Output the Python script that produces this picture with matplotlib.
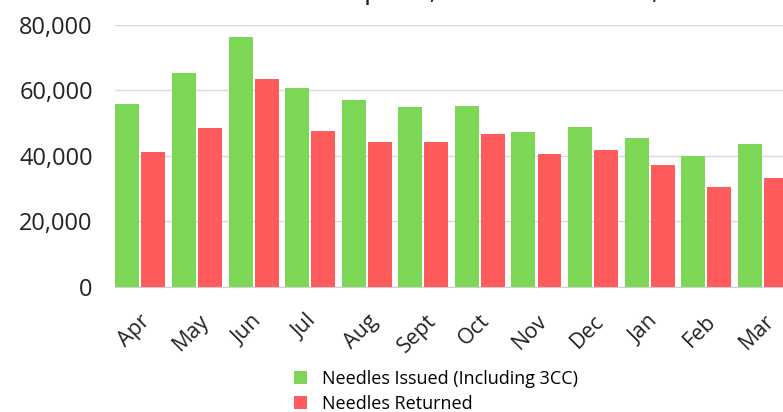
import matplotlib.pyplot as plt
import matplotlib.transforms as mtrans
import numpy as np

plt.rcParams['font.family'] = ['Open Sans', 'DejaVu Sans']

# dados
meses = ['Apr', 'May', 'Jun', 'Jul', 'Aug', 'Sept', 'Oct', 'Nov', 'Dec', 'Jan', 'Feb', 'Mar']
issued = [55900, 65400, 76200, 60800, 57100, 54900, 55300, 47400, 49000, 45600, 40000, 43600]
returned = [41300, 48600, 63400, 47500, 44200, 44300, 46600, 40600, 41800, 37300, 30500, 33200]

titulo = 'Fiscal Year April 1, 2022 - March 31, 2023'
leg_issued = 'Needles Issued (Including 3CC)'
leg_returned = 'Needles Returned'

verde = '#7dd757'
vermelho = '#ff5a5c'

fig = plt.figure(figsize=(7.83, 4.12), dpi=100)
ax = fig.add_axes([0.1469, 0.3034, 0.8634, 0.636])

x = np.arange(len(meses))
w = 0.424
off = 0.23
ax.bar(x - off, issued, width=w, color=verde, label=leg_issued)
ax.bar(x + off, returned, width=w, color=vermelho, label=leg_returned)

ax.set_xlim(-0.45, 11.5)
ax.set_ylim(0, 80000)
ax.set_yticks([0, 20000, 40000, 60000, 80000])
ax.yaxis.set_major_formatter(plt.FuncFormatter(lambda v, p: '{:,.0f}'.format(v)))
ax.set_xticks(x)
ax.set_xticklabels(meses, rotation=45, ha='center')

ax.grid(axis='y', color='#d9d9d9', linewidth=1)
ax.set_axisbelow(True)
for s in ['top', 'right', 'left']:
    ax.spines[s].set_visible(False)
ax.spines['bottom'].set_color('#d0d0d0')
ax.tick_params(axis='y', length=0, labelsize=17, pad=16, colors='#222222')
ax.tick_params(axis='x', length=0, labelsize=15.5, pad=17, colors='#222222')

# os rotulos do eixo x ficam um pouco a esquerda no original
desloc = mtrans.ScaledTranslation(-6 / 100, 0, fig.dpi_scale_trans)
for lab in ax.get_xticklabels():
    lab.set_transform(lab.get_transform() + desloc)

# titulo cortado no topo, como no original
fig.text(0.596, 1.004, titulo, ha='center', va='baseline', fontsize=20, color='#222222')

fig.legend(loc='upper left', bbox_to_anchor=(0.366, 0.12), ncol=1, frameon=False,
           fontsize=13, handlelength=0.75, handleheight=0.75, handletextpad=0.8,
           labelspacing=0.4, borderaxespad=0)

fig.savefig('out.png', dpi=100)
